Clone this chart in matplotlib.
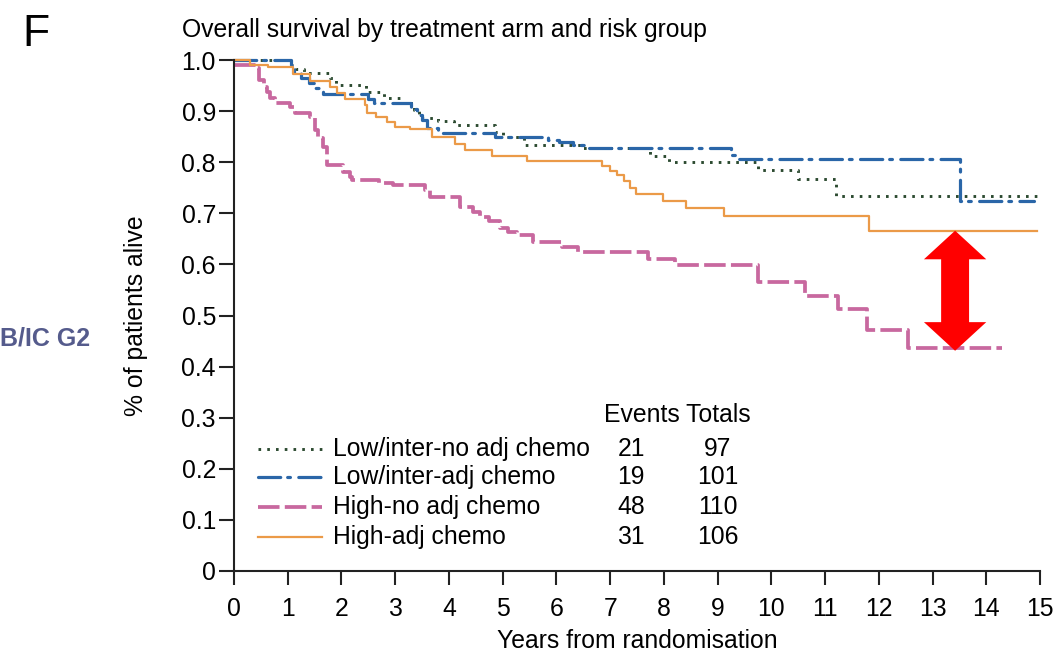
import matplotlib
matplotlib.use("Agg")
import matplotlib.pyplot as plt
from matplotlib.patches import Polygon

plt.rcParams['font.family'] = ['Liberation Sans', 'DejaVu Sans']
plt.rcParams['lines.scale_dashes'] = False

# Kaplan-Meier step curves: event times (years) and survival fraction after each step
ln_t = [0, 1.05, 1.15, 1.30, 1.79, 1.90, 2.45, 2.80, 3.10, 3.35, 3.45, 3.80, 4.10,
        4.85, 5.00, 5.40, 6.45, 7.75, 8.10, 9.75, 10.50, 11.20]
ln_s = [1.0, 0.99, 0.982, 0.975, 0.964, 0.951, 0.938, 0.925, 0.915, 0.903, 0.887,
        0.880, 0.872, 0.860, 0.849, 0.833, 0.828, 0.812, 0.800, 0.785, 0.767, 0.733]
ln_end = 14.95

la_t = [0, 1.07, 1.12, 1.25, 1.40, 1.50, 1.65, 2.50, 2.60, 3.30, 3.40, 3.50, 3.60,
        3.80, 4.85, 5.85, 6.05, 6.30, 6.60, 9.25, 9.35, 13.52]
la_s = [1.0, 0.99, 0.975, 0.965, 0.955, 0.945, 0.934, 0.924, 0.915, 0.905, 0.893,
        0.882, 0.866, 0.858, 0.849, 0.844, 0.839, 0.834, 0.827, 0.815, 0.806, 0.725]
la_end = 14.88

hn_t = [0, 0.42, 0.47, 0.55, 0.62, 0.67, 0.76, 1.04, 1.14, 1.41, 1.51, 1.56, 1.65,
        1.73, 2.03, 2.16, 2.20, 2.70, 2.96, 3.56, 3.65, 4.20, 4.45, 4.58, 4.75, 4.95,
        5.10, 5.27, 5.57, 6.10, 6.40, 7.70, 8.20, 9.75, 10.63, 11.24, 11.78, 12.55]
hn_s = [0.991, 0.985, 0.96, 0.948, 0.937, 0.926, 0.915, 0.908, 0.896, 0.889, 0.863,
        0.847, 0.83, 0.794, 0.781, 0.771, 0.765, 0.76, 0.755, 0.745, 0.732, 0.712,
        0.703, 0.693, 0.685, 0.671, 0.664, 0.657, 0.644, 0.634, 0.624, 0.611, 0.598,
        0.565, 0.538, 0.513, 0.472, 0.437]
hn_end = 14.3

ha_t = [0, 0.30, 0.64, 1.10, 1.41, 1.79, 1.91, 2.07, 2.44, 2.47, 2.65, 2.84, 3.00,
        3.28, 3.68, 4.11, 4.30, 4.80, 5.45, 6.84, 7.00, 7.12, 7.25, 7.37, 7.48, 7.99,
        8.42, 9.11, 11.81]
ha_s = [1.0, 0.991, 0.986, 0.972, 0.959, 0.947, 0.936, 0.923, 0.911, 0.897, 0.888,
        0.879, 0.869, 0.864, 0.850, 0.836, 0.823, 0.812, 0.803, 0.793, 0.783, 0.774,
        0.764, 0.750, 0.737, 0.724, 0.710, 0.695, 0.666]
ha_end = 14.95

arms = ["Low/inter-no adj chemo", "Low/inter-adj chemo", "High-no adj chemo", "High-adj chemo"]
events = [21, 19, 48, 31]
totals = [97, 101, 110, 106]

x_ticks = list(range(0, 16))
y_ticks = [0, 0.1, 0.2, 0.3, 0.4, 0.5, 0.6, 0.7, 0.8, 0.9, 1.0]
y_labels = ["0", "0.1", "0.2", "0.3", "0.4", "0.5", "0.6", "0.7", "0.8", "0.9", "1.0"]

styles = [
    dict(color='#2b4a30', lw=2.1, ls=(0, (1.9, 4.4)), dash_capstyle='butt'),
    dict(color='#2a66a8', lw=2.3, ls=(0, (16, 5, 2, 6)), dash_capstyle='round'),
    dict(color='#c8689f', lw=2.7, ls=(0, (15.5, 3.8)), dash_capstyle='butt'),
    dict(color='#eb9a48', lw=1.6, ls='-'),
]
curves = [(ln_t, ln_s, ln_end), (la_t, la_s, la_end), (hn_t, hn_s, hn_end), (ha_t, ha_s, ha_end)]

FS = 17.8
fig = plt.figure(figsize=(10.56, 6.57), dpi=100)
ax = fig.add_axes([234 / 1056, 86 / 657, 806 / 1056, 511 / 657])

for (t, s, end), st in zip(curves, styles):
    ax.step(t + [end], s + [s[-1]], where='post', clip_on=False, **st)

ax.set_xlim(0, 15)
ax.set_ylim(0, 1)
ax.set_xticks(x_ticks)
ax.set_yticks(y_ticks)
ax.set_yticklabels(y_labels)
for side in ('top', 'right'):
    ax.spines[side].set_visible(False)
for side in ('left', 'bottom'):
    ax.spines[side].set_linewidth(1.5)
    ax.spines[side].set_color('#222222')
ax.tick_params(axis='both', labelsize=FS, width=1.5, color='#222222')
ax.tick_params(axis='y', length=11, pad=2)
ax.tick_params(axis='x', length=10, pad=9)

ax.set_ylabel("% of patients alive", fontsize=FS)
ax.yaxis.set_label_coords(-0.107, 0.5)
ax.set_xlabel("Years from randomisation", fontsize=FS)
ax.xaxis.set_label_coords(0.5, -0.113)

# legend block with event counts
row_y = [0.239, 0.183, 0.125, 0.066]
for y, name, ev, tot, st in zip(row_y, arms, events, totals, styles):
    ax.plot([0.030, 0.109], [y, y], transform=ax.transAxes, clip_on=False, **st)
    ax.text(0.123, y, name, transform=ax.transAxes, fontsize=FS, va='center', ha='left')
    ax.text(0.4926, y, str(ev), transform=ax.transAxes, fontsize=FS, va='center', ha='center')
    ax.text(0.600, y, str(tot), transform=ax.transAxes, fontsize=FS, va='center', ha='center')
ax.text(0.459, 0.305, "Events Totals", transform=ax.transAxes, fontsize=FS, va='center', ha='left')

# red double arrow marking the gap between the high-risk arms at the end of follow-up
ax_x = 13.42
top, bot = ha_s[-1], hn_s[-1] - 0.006
hw, sw, hl = 0.58, 0.26, 0.056
arrow = Polygon([
    (ax_x, top), (ax_x + hw, top - hl), (ax_x + sw, top - hl), (ax_x + sw, bot + hl),
    (ax_x + hw, bot + hl), (ax_x, bot), (ax_x - hw, bot + hl), (ax_x - sw, bot + hl),
    (ax_x - sw, top - hl), (ax_x - hw, top - hl)],
    closed=True, facecolor='#ff0000', edgecolor='none', zorder=5, clip_on=False)
ax.add_patch(arrow)

fig.text(182 / 1056, 1 - 30 / 657, "Overall survival by treatment arm and risk group",
         fontsize=FS, va='center', ha='left')
fig.text(22 / 1056, 1 - 34 / 657, "F", fontsize=32, va='center', ha='left')
fig.text(0, 1 - 338 / 657, "B/IC G2", fontsize=18, fontweight='bold', color='#555b8c',
         va='center', ha='left')

fig.savefig("out.png", dpi=100)
